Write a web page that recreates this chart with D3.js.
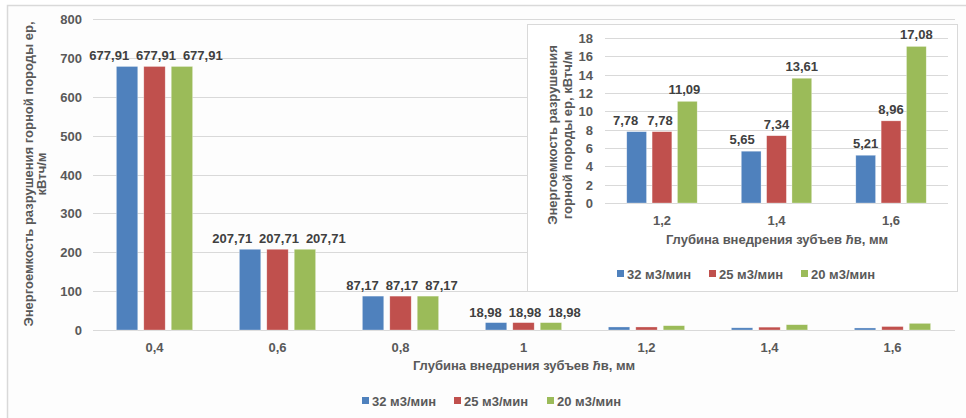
<!DOCTYPE html>
<html><head><meta charset="utf-8">
<script src="https://cdn.jsdelivr.net/npm/d3@7"></script>
<style>
html,body{margin:0;padding:0;background:#fff;}
svg{display:block;}
svg text{font-family:Arial,"Liberation Sans",Helvetica,sans-serif;font-weight:bold;}
</style></head>
<body><svg id="c" width="966" height="418"></svg>
<script>
// ---- data ----
const categories = ["0,4","0,6","0,8","1","1,2","1,4","1,6"];
const seriesNames = ["32 м3/мин","25 м3/мин","20 м3/мин"];
const s32 = [677.91, 207.71, 87.17, 18.98, 7.78, 5.65, 5.21];
const s25 = [677.91, 207.71, 87.17, 18.98, 7.78, 7.34, 8.96];
const s20 = [677.91, 207.71, 87.17, 18.98, 11.09, 13.61, 17.08];
const mainLabelCount = 4; // labels shown only for first four groups in main chart
const mainTicks = [0,100,200,300,400,500,600,700,800];
const insetCategories = ["1,2","1,4","1,6"];
const insetTicks = [0,2,4,6,8,10,12,14,16,18];
const colors = ["#4f81bd","#c0504d","#9bbb59"];
const yTitleLines = ["Энергоемкость разрушения горной породы ер,", "кВтч/м"];
const insetYTitleLines = ["Энергоемкость разрушения", "горной породы ер, кВтч/м"];
// manual label nudges in the inset (px), per group / series
const insetLabelDx = [[-11,-2,-3],[-9,0,0],[0,0,0]];

const series = [s32, s25, s20];
const fmt = v => v.toFixed(2).replace(".", ",");

const svg = d3.select("#c");
const fs = "13px";

function textWidth(str) {
  const p = svg.append("text").style("font-size",fs).text(str);
  const w = p.node().getComputedTextLength();
  p.remove();
  return w;
}

svg.append("rect").attr("x",0).attr("y",0).attr("width",966).attr("height",418).attr("fill","#fff");
svg.append("rect").attr("x",7.5).attr("y",5.5).attr("width",1000).attr("height",500)
  .attr("fill","#fdfdfd").attr("stroke","#d9d9d9").attr("stroke-width",1.5);

function xTitle(g, x, y) {
  const t = g.append("text").attr("x",x).attr("y",y).attr("text-anchor","middle")
    .attr("fill","#595959").style("font-size",fs);
  t.append("tspan").text("Глубина внедрения зубъев ");
  t.append("tspan").style("font-style","italic").text("ħ");
  t.append("tspan").text("в, мм");
}

function legend(g, xs, y) {
  seriesNames.forEach((n,i) => {
    g.append("rect").attr("x",xs[i]).attr("y",y-4).attr("width",7).attr("height",7).attr("fill",colors[i]);
    g.append("text").attr("x",xs[i]+10).attr("y",y+5).attr("fill","#595959")
      .style("font-size",fs).text(n);
  });
}

// ---- main chart ----
const main = svg.append("g");
const y = d3.scaleLinear().domain([0,800]).range([330,19]);
const x0 = d3.scaleBand().domain(categories).range([93,954]).paddingInner(0.38).paddingOuter(0.19);
const x1 = d3.scaleBand().domain(d3.range(3)).range([0,x0.bandwidth()]).paddingInner(0.22);

main.selectAll("line.grid").data(mainTicks).join("line")
  .attr("x1",93).attr("x2",955).attr("y1",d=>Math.round(y(d))+0.5).attr("y2",d=>Math.round(y(d))+0.5)
  .attr("stroke","#d9d9d9").attr("stroke-width",1);
main.selectAll("text.yt").data(mainTicks).join("text")
  .attr("x",82).attr("y",d=>y(d)+5).attr("text-anchor","end").attr("fill","#595959")
  .style("font-size",fs).text(d=>d);

categories.forEach((c,ci) => {
  const gc = x0(c) + x0.bandwidth()/2;
  series.forEach((s,si) => {
    main.append("rect").attr("x",x0(c)+x1(si)).attr("y",y(s[ci]))
      .attr("width",x1.bandwidth()).attr("height",y(0)-y(s[ci]))
      .attr("fill",colors[si]).attr("stroke","#fff").attr("stroke-opacity",0.5).attr("stroke-width",0.6);
    if (ci < mainLabelCount) {
      const spacing = textWidth(fmt(s[ci])) + 7;
      main.append("text").attr("x",gc + 1.5 + (si-1)*spacing).attr("y",y(s[ci])-6)
        .attr("text-anchor","middle").attr("fill","#404040").style("font-size",fs).text(fmt(s[ci]));
    }
  });
  main.append("text").attr("x",gc).attr("y",352).attr("text-anchor","middle")
    .attr("fill","#595959").style("font-size",fs).text(c);
});
xTitle(main, 524, 370);
legend(main, [362,454,547], 401);
const yt = main.append("text").attr("transform","translate(33,174) rotate(-90)")
  .attr("text-anchor","middle").attr("fill","#595959").style("font-size",fs);
yt.append("tspan").attr("x",0).attr("dy",0).text(yTitleLines[0]);
yt.append("tspan").attr("x",0).attr("dy",13).text(yTitleLines[1]);

// ---- inset chart ----
const ins = svg.append("g");
ins.append("rect").attr("x",527.5).attr("y",24.5).attr("width",430).attr("height",267)
  .attr("fill","#fff").attr("stroke","#d9d9d9").attr("stroke-width",1);
const iy = d3.scaleLinear().domain([0,18]).range([203,38]);
const ix0 = d3.scaleBand().domain(insetCategories).range([605,948]).paddingInner(0.385).paddingOuter(0.19);
const ix1 = d3.scaleBand().domain(d3.range(3)).range([0,ix0.bandwidth()]).paddingInner(0.22);

ins.selectAll("line.grid").data(insetTicks).join("line")
  .attr("x1",605).attr("x2",948).attr("y1",d=>Math.round(iy(d))+0.5).attr("y2",d=>Math.round(iy(d))+0.5)
  .attr("stroke","#d9d9d9").attr("stroke-width",1);
ins.selectAll("text.yt").data(insetTicks).join("text")
  .attr("x",593).attr("y",d=>iy(d)+5).attr("text-anchor","end").attr("fill","#595959")
  .style("font-size",fs).text(d=>d);

insetCategories.forEach((c,k) => {
  const ci = categories.indexOf(c);
  series.forEach((s,si) => {
    ins.append("rect").attr("x",ix0(c)+ix1(si)).attr("y",iy(s[ci]))
      .attr("width",ix1.bandwidth()).attr("height",iy(0)-iy(s[ci]))
      .attr("fill",colors[si]).attr("stroke","#fff").attr("stroke-opacity",0.5).attr("stroke-width",0.6);
    ins.append("text").attr("x",ix0(c)+ix1(si)+ix1.bandwidth()/2 + insetLabelDx[k][si]).attr("y",iy(s[ci])-7)
      .attr("text-anchor","middle").attr("fill","#404040").style("font-size",fs).text(fmt(s[ci]));
  });
  ins.append("text").attr("x",ix0(c)+ix0.bandwidth()/2).attr("y",225).attr("text-anchor","middle")
    .attr("fill","#595959").style("font-size",fs).text(c);
});
xTitle(ins, 777, 244);
legend(ins, [617,709,801], 274);
const iyt = ins.append("text").attr("transform","translate(557,135) rotate(-90)")
  .attr("text-anchor","middle").attr("fill","#595959").style("font-size",fs);
iyt.append("tspan").attr("x",0).attr("dy",0).text(insetYTitleLines[0]);
iyt.append("tspan").attr("x",0).attr("dy",15).text(insetYTitleLines[1]);
</script></body></html>
